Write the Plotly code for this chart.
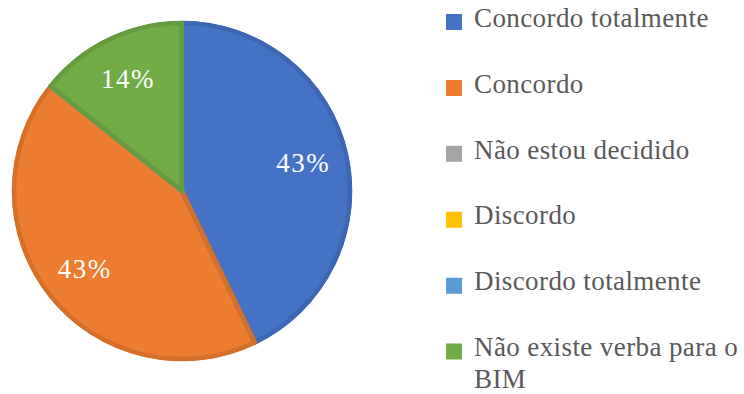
import plotly.graph_objects as go

# Survey responses (count of answers per option)
labels = [
    "Concordo totalmente",
    "Concordo",
    "Não estou decidido",
    "Discordo",
    "Discordo totalmente",
    "Não existe verba para o<br>BIM",
]
values = [3, 3, 0, 0, 0, 1]

fill_colors = ["#4472C4", "#ED7D31", "#A5A5A5", "#FFC000", "#5B9BD5", "#70AD47"]
edge_colors = ["#3D66B3", "#D5702B", "#949494", "#E5AD00", "#5289C0", "#659C3F"]

W, H = 744, 394
cx, cy, r = 182, 191, 168

LEGEND_BASE = 12.1  # small base size: each <br> adds one fixed-height step
TEXT_STYLE = "font-size:27px;letter-spacing:0.4px"


def legend_label(text):
    # pad single-line entries with blank lines so entries are evenly spaced
    parts = text.split("<br>")
    if len(parts) == 1:
        parts += [" ", " ", " "]
    else:
        parts = [parts[0], " ", parts[1]]
    return "<br>".join(f"<span style='{TEXT_STYLE}'>{p}</span>" for p in parts)


legend_labels = [legend_label(l) for l in labels]
domain = dict(x=[(cx - r) / W, (cx + r) / W], y=[(H - cy - r) / H, (H - cy + r) / H])
common = dict(
    labels=legend_labels,
    values=values,
    sort=False,
    direction="clockwise",
    rotation=0,
    domain=domain,
)

fig = go.Figure()

# the filled slices (solid legend squares)
fig.add_trace(
    go.Pie(
        **common,
        marker=dict(colors=fill_colors, line=dict(color=fill_colors, width=4)),
        textinfo="none",
        hoverinfo="label+percent",
    )
)

# darker slice outlines
fig.add_trace(
    go.Pie(
        **common,
        marker=dict(colors=["rgba(0,0,0,0)"] * len(values), line=dict(color=edge_colors, width=4.5)),
        textinfo="none",
        showlegend=False,
        hoverinfo="skip",
    )
)

# percentage labels, placed in an outer ring of a transparent copy
fig.add_trace(
    go.Pie(
        **common,
        hole=0.48,
        marker=dict(colors=["rgba(0,0,0,0)"] * len(values), line=dict(width=0)),
        texttemplate="<span style='letter-spacing:1.5px'>%{percent:.0%}</span>",
        textposition="inside",
        insidetextorientation="horizontal",
        insidetextfont=dict(family="Liberation Serif", size=27, color="white"),
        showlegend=False,
        hoverinfo="skip",
    )
)

fig.update_layout(
    width=W,
    height=H,
    margin=dict(l=0, r=0, t=0, b=0, autoexpand=False),
    paper_bgcolor="white",
    plot_bgcolor="white",
    showlegend=True,
    legend=dict(
        x=434 / W,
        xanchor="left",
        y=1 - 7.6 / H,
        yanchor="top",
        valign="top",
        bgcolor="rgba(0,0,0,0)",
        font=dict(family="Liberation Serif", size=LEGEND_BASE, color="#595959"),
        traceorder="normal",
    ),
)

fig.write_html("out.html")
